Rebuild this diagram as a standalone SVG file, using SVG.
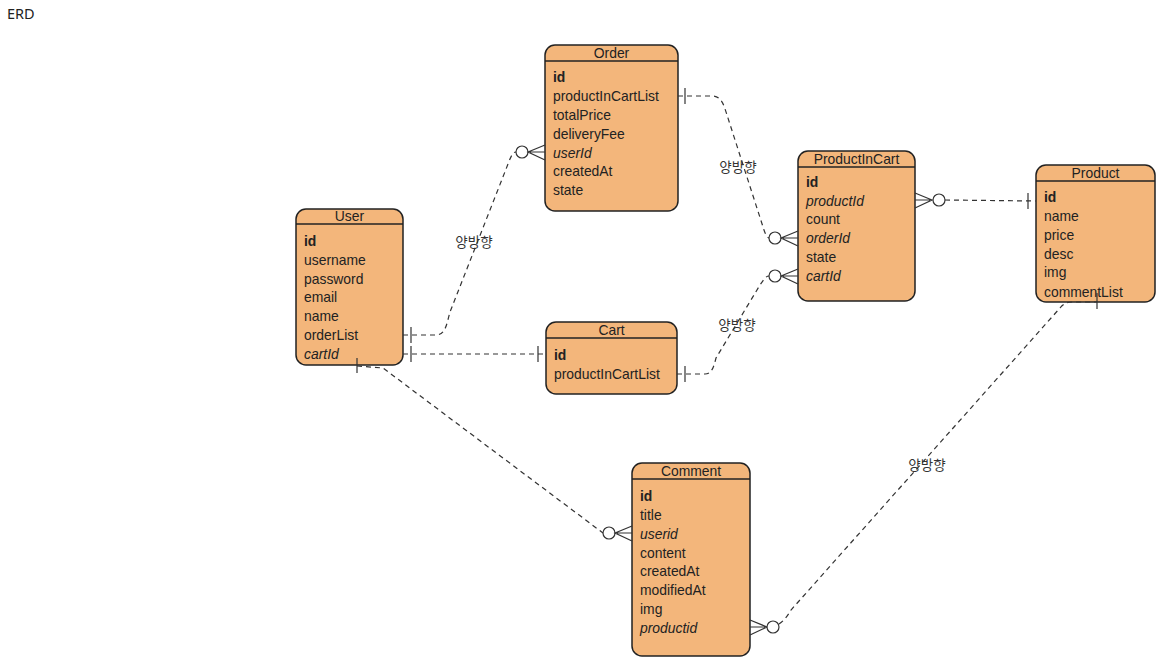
<svg xmlns="http://www.w3.org/2000/svg" width="1173" height="671" viewBox="0 0 1173 671">
<style>
.box{fill:#F3B67B;stroke:#222;stroke-width:1.5}
.hl{stroke:#222;stroke-width:1.5}
.t{font-family:"Liberation Sans",Arial,sans-serif;font-size:13.9px;fill:#222}
.h{text-anchor:middle}
.b{font-weight:bold}
.i{font-style:italic}
.c{fill:none;stroke:#333;stroke-width:1.2;stroke-dasharray:5,4}
.s{fill:none;stroke:#333;stroke-width:1.2}
.o{fill:#fff;stroke:#333;stroke-width:1.2}
.lbl{font-family:"Noto Sans CJK KR","Noto Sans",sans-serif;font-size:13.5px;fill:#333;text-anchor:middle}
</style>
<rect width="1173" height="671" fill="#fff"/>
<text x="7" y="19" style="font-family:'Noto Sans','Liberation Sans',sans-serif;font-size:14.5px;fill:#222">ERD</text>

<g id="User">
  <rect class="box" x="296" y="209" width="107" height="156" rx="10"/>
  <line class="hl" x1="296" y1="224" x2="403" y2="224"/>
  <text class="t h" x="349.5" y="221">User</text>
  <text class="t b" x="304" y="246">id</text>
  <text class="t" x="304" y="265">username</text>
  <text class="t" x="304" y="284">password</text>
  <text class="t" x="304" y="302">email</text>
  <text class="t" x="304" y="321">name</text>
  <text class="t" x="304" y="340">orderList</text>
  <text class="t i" x="304" y="359">cartId</text>
</g>

<g id="Order">
  <rect class="box" x="545" y="45" width="133" height="166" rx="10"/>
  <line class="hl" x1="545" y1="61" x2="678" y2="61"/>
  <text class="t h" x="611.5" y="58">Order</text>
  <text class="t b" x="553" y="82">id</text>
  <text class="t" x="553" y="101">productInCartList</text>
  <text class="t" x="553" y="120">totalPrice</text>
  <text class="t" x="553" y="139">deliveryFee</text>
  <text class="t i" x="553" y="158">userId</text>
  <text class="t" x="553" y="176">createdAt</text>
  <text class="t" x="553" y="195">state</text>
</g>

<g id="ProductInCart">
  <rect class="box" x="798" y="151" width="117" height="150" rx="10"/>
  <line class="hl" x1="798" y1="167" x2="915" y2="167"/>
  <text class="t h" x="856.5" y="164">ProductInCart</text>
  <text class="t b" x="806" y="187">id</text>
  <text class="t i" x="806" y="206">productId</text>
  <text class="t" x="806" y="224">count</text>
  <text class="t i" x="806" y="243">orderId</text>
  <text class="t" x="806" y="262">state</text>
  <text class="t i" x="806" y="281">cartId</text>
</g>

<g id="Product">
  <rect class="box" x="1036" y="165" width="119" height="137" rx="10"/>
  <line class="hl" x1="1036" y1="181" x2="1155" y2="181"/>
  <text class="t h" x="1095.5" y="178">Product</text>
  <text class="t b" x="1044" y="202">id</text>
  <text class="t" x="1044" y="221">name</text>
  <text class="t" x="1044" y="240">price</text>
  <text class="t" x="1044" y="259">desc</text>
  <text class="t" x="1044" y="277">img</text>
  <text class="t" x="1044" y="297">commentList</text>
</g>

<g id="Cart">
  <rect class="box" x="546" y="322" width="131" height="72" rx="10"/>
  <line class="hl" x1="546" y1="338" x2="677" y2="338"/>
  <text class="t h" x="611.5" y="335">Cart</text>
  <text class="t b" x="554" y="360">id</text>
  <text class="t" x="554" y="379">productInCartList</text>
</g>

<g id="Comment">
  <rect class="box" x="632" y="463" width="118" height="193" rx="10"/>
  <line class="hl" x1="632" y1="479" x2="750" y2="479"/>
  <text class="t h" x="691" y="476">Comment</text>
  <text class="t b" x="640" y="501">id</text>
  <text class="t" x="640" y="520">title</text>
  <text class="t i" x="640" y="539">userid</text>
  <text class="t" x="640" y="558">content</text>
  <text class="t" x="640" y="576">createdAt</text>
  <text class="t" x="640" y="595">modifiedAt</text>
  <text class="t" x="640" y="614">img</text>
  <text class="t i" x="640" y="633">productid</text>
</g>

<g id="connectors">
  <!-- User.orderList -> Order.userId -->
  <path class="c" d="M403,335 H436 C446,335 447,322 450,312 L508,164 C511,156 513,152 516,152"/>
  <path class="s" d="M411,327 V343"/>
  <circle class="o" cx="522" cy="152" r="6"/>
  <path class="s" d="M545,145 L528,152 L545,160 M530,152 H545"/>
  <text class="lbl" x="474" y="247">양방향</text>

  <!-- User.cartId -> Cart.id -->
  <path class="c" d="M403,354 H546"/>
  <path class="s" d="M411,346 V362 M538,346 V362"/>

  <!-- Order.productInCartList -> ProductInCart.orderId -->
  <path class="c" d="M678,96 H712 C722,96 724,106 727,115 L764,230 C766,236 768,238 769,238"/>
  <path class="s" d="M685,88 V104"/>
  <circle class="o" cx="775" cy="238" r="6"/>
  <path class="s" d="M798,231 L781,238 L798,246 M783,238 H798"/>
  <text class="lbl" x="738" y="172">양방향</text>

  <!-- Cart.productInCartList -> ProductInCart.cartId -->
  <path class="c" d="M677,374 H705 C712,374 714,366 716,358 L760,285 C764,279 766,276 769,276"/>
  <path class="s" d="M685,366 V382"/>
  <circle class="o" cx="775" cy="276" r="6"/>
  <path class="s" d="M798,269 L781,276 L798,284 M783,276 H798"/>
  <text class="lbl" x="737" y="330">양방향</text>

  <!-- ProductInCart.productId -> Product.id -->
  <path class="s" d="M915,193 L932,200 L915,208 M915,200 H930"/>
  <circle class="o" cx="939" cy="200" r="6"/>
  <path class="c" d="M945,200 L1036,201"/>
  <path class="s" d="M1028,193 V209"/>

  <!-- User -> Comment.userid -->
  <path class="c" d="M357,366 L383,368 L603,533"/>
  <path class="s" d="M357,358 V373"/>
  <circle class="o" cx="609" cy="533" r="6"/>
  <path class="s" d="M632,526 L615,533 L632,541 M617,533 H632"/>

  <!-- Comment.productid -> Product.commentList -->
  <path class="s" d="M750,620 L767,627 L750,635 M750,627 H765"/>
  <circle class="o" cx="773" cy="627" r="6"/>
  <path class="c" d="M779,624 C785,620 788,615 791,610 L1060,308 C1064,303 1068,302 1072,302 H1097"/>
  <path class="s" d="M1097,293 V309"/>
  <text class="lbl" x="927" y="470">양방향</text>
</g>
</svg>
